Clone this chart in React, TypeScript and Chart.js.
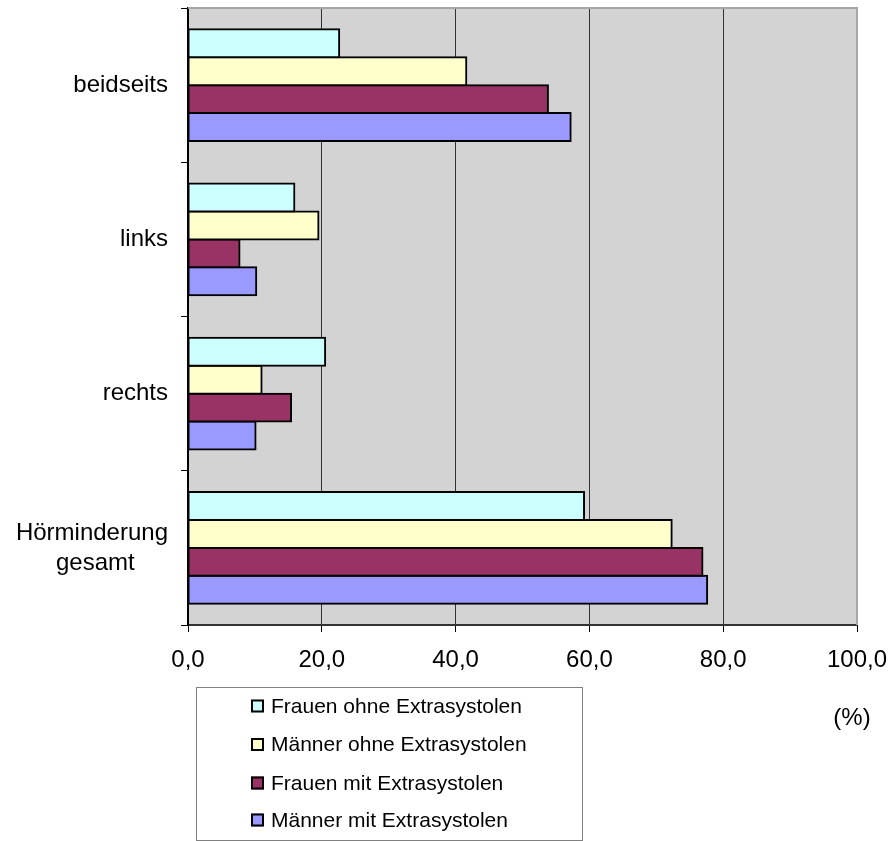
import React, { useEffect, useRef } from 'react';
import { Chart, registerables } from 'chart.js';

Chart.register(...registerables);

// Categories (top to bottom); the two-line label is padded so its lines sit centred
const categories: (string | string[])[] = ['beidseits', 'links', 'rechts', ['Hörminderung', 'gesamt     ']];

const seriesNames = [
  'Frauen ohne Extrasystolen',
  'Männer ohne Extrasystolen',
  'Frauen mit Extrasystolen',
  'Männer mit Extrasystolen',
];

// Percentages per category: beidseits, links, rechts, Hörminderung gesamt
const frauenOhne = [22.6, 15.9, 20.5, 59.2];
const maennerOhne = [41.6, 19.5, 11.0, 72.3];
const frauenMit = [53.8, 7.7, 15.4, 76.9];
const maennerMit = [57.2, 10.2, 10.1, 77.6];

const seriesColors = ['#CCFFFF', '#FFFFCC', '#993366', '#9999FF'];

const xMin = 0;
const xMax = 100;
const xStep = 20;
const unitLabel = '(%)';

const FONT = '"Liberation Sans", Arial, sans-serif';

const formatTick = (v: number) => v.toFixed(1).replace('.', ',');

// Grey plot area with a thin grey frame on top and right
const plotBackground = {
  id: 'plotBackground',
  beforeDraw(chart: any) {
    const { ctx, chartArea: a } = chart;
    ctx.save();
    ctx.fillStyle = '#D3D3D3';
    ctx.fillRect(a.left, a.top, a.right - a.left, a.bottom - a.top);
    ctx.restore();
  },
  beforeDatasetsDraw(chart: any) {
    const { ctx, chartArea: a } = chart;
    ctx.save();
    ctx.strokeStyle = '#A6A6A6';
    ctx.lineWidth = 2;
    ctx.beginPath();
    ctx.moveTo(a.left, a.top);
    ctx.lineTo(a.right, a.top);
    ctx.lineTo(a.right, a.bottom);
    ctx.stroke();
    ctx.restore();
  },
};

// Boxed legend under the axis, plus the unit label
const boxedLegend = {
  id: 'boxedLegend',
  afterDraw(chart: any) {
    const { ctx } = chart;
    const box = { x: 196, y: 687, w: 386, h: 153 };
    ctx.save();
    ctx.strokeStyle = '#808080';
    ctx.lineWidth = 1;
    ctx.strokeRect(box.x + 0.5, box.y + 0.5, box.w, box.h);

    const rowY = [706, 744.5, 783, 820];
    ctx.font = `21px ${FONT}`;
    ctx.textBaseline = 'middle';
    ctx.textAlign = 'left';
    chart.data.datasets.forEach((ds: any, i: number) => {
      const cy = rowY[i];
      const sx = 251;
      const size = 13;
      ctx.fillStyle = ds.backgroundColor;
      ctx.fillRect(sx, cy - size / 2, size, size);
      ctx.strokeStyle = '#000';
      ctx.lineWidth = 2;
      ctx.strokeRect(sx + 1, cy - size / 2 + 1, size - 2, size - 2);
      ctx.fillStyle = '#000';
      ctx.fillText(ds.label, 271, cy + 1);
    });

    ctx.font = `24px ${FONT}`;
    ctx.textAlign = 'center';
    ctx.fillText(unitLabel, 852, 718);
    ctx.restore();
  },
};

export default function App() {
  const canvasRef = useRef<HTMLCanvasElement | null>(null);

  useEffect(() => {
    document.body.style.margin = '0';
    const canvas = canvasRef.current;
    if (!canvas) return;

    const values = [frauenOhne, maennerOhne, frauenMit, maennerMit];

    const chart = new Chart(canvas, {
      type: 'bar',
      data: {
        labels: categories as any,
        datasets: seriesNames.map((name, i) => ({
          label: name,
          data: values[i],
          backgroundColor: seriesColors[i],
          borderColor: '#000',
          borderWidth: 2,
          borderSkipped: false,
          inflateAmount: 1,
          barPercentage: 1,
          categoryPercentage: 0.726,
        })),
      },
      options: {
        indexAxis: 'y',
        responsive: false,
        animation: false,
        devicePixelRatio: 1,
        layout: { padding: { top: 8, right: 35, left: 0, bottom: 0 } },
        plugins: {
          legend: { display: false },
          tooltip: { enabled: false },
        },
        scales: {
          x: {
            type: 'linear',
            min: xMin,
            max: xMax,
            ticks: {
              stepSize: xStep,
              callback: (v: any) => formatTick(Number(v)),
              color: '#000',
              font: { family: FONT, size: 24 },
              padding: 14,
              maxRotation: 0,
              autoSkip: false,
            },
            grid: {
              color: (c: any) => (c.tick && c.tick.value === xMax ? '#A6A6A6' : '#333333'),
              lineWidth: 1,
              tickColor: '#000',
              tickLength: 7,
            },
            border: { color: '#333333', width: 2 },
            afterFit: (s: any) => {
              s.height = 216;
              s.paddingLeft = 0;
              s.paddingRight = 0;
            },
          },
          y: {
            type: 'category',
            offset: true,
            grid: {
              offset: true,
              drawOnChartArea: false,
              tickLength: 7,
              color: '#000',
            },
            border: { color: '#000', width: 2 },
            ticks: {
              color: '#000',
              font: { family: FONT, size: 24, lineHeight: 1.25 },
              padding: 13,
              autoSkip: false,
            },
            afterFit: (s: any) => {
              s.width = 188;
              s.paddingTop = 0;
              s.paddingBottom = 0;
            },
          },
        },
      } as any,
      plugins: [plotBackground, boxedLegend],
    });

    return () => chart.destroy();
  }, []);

  return (
    <div style={{ width: 892, height: 841, background: '#fff' }}>
      <canvas ref={canvasRef} width={892} height={841} style={{ display: 'block' }} />
    </div>
  );
}
